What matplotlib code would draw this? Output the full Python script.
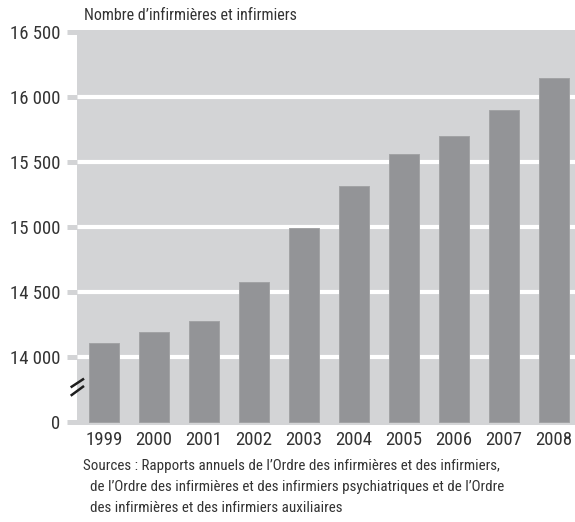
import matplotlib
matplotlib.use("Agg")
import matplotlib.pyplot as plt
from matplotlib import font_manager
from matplotlib.lines import Line2D

years = ["1999", "2000", "2001", "2002", "2003", "2004", "2005", "2006", "2007", "2008"]
nurses = [14105, 14190, 14270, 14570, 14990, 15310, 15562, 15700, 15900, 16142]
ytick_values = [13500, 14000, 14500, 15000, 15500, 16000, 16500]
ytick_labels = ["0", "14 000", "14 500", "15 000", "15 500", "16 000", "16 500"]
title = "Nombre d\u2019infirmières et infirmiers"
source_lines = [
    "Sources : Rapports annuels de l\u2019Ordre des infirmières et des infirmiers,",
    "de l\u2019Ordre des infirmières et des infirmiers psychiatriques et de l\u2019Ordre",
    "des infirmières et des infirmiers auxiliaires",
]

names = {f.name for f in font_manager.fontManager.ttflist}
narrow = None
for cand in ["Roboto Condensed", "Liberation Sans Narrow", "Open Sans Condensed", "Arial Narrow"]:
    if cand in names:
        narrow = cand
        break
if narrow:
    fam = [narrow, "DejaVu Sans"]
    tick_fs, text_fs, title_fs = 13.5, 10.8, 11.5
else:
    fam = ["Roboto", "DejaVu Sans"]
    tick_fs, text_fs, title_fs = 12.0, 9.2, 9.8
plt.rcParams["font.family"] = fam

text_col = "#333333"
bg = "#d3d4d6"
bar_col = "#939497"

W, H = 575, 522
fig = plt.figure(figsize=(W / 100, H / 100), dpi=100)
left_px, right_px, top_px, bot_px = 77, 575, 30, 424.5
ax = fig.add_axes([left_px / W, 1 - bot_px / H, (right_px - left_px) / W, (bot_px - top_px) / H])
ax.set_facecolor(bg)
for s in ax.spines.values():
    s.set_visible(False)

x = list(range(len(years)))
ax.set_xlim(-0.54, 9.42)
ax.set_ylim(13477, 16513)
for v in [14000, 14500, 15000, 15500, 16000]:
    ax.axhline(v, color="white", lw=3.0, zorder=1)
ax.bar(x, [n - 13500 for n in nurses], bottom=13500, width=0.6, color=bar_col,
       edgecolor="#a2a3a5", linewidth=0.7, zorder=2)

ax.set_yticks(ytick_values)
ax.set_yticklabels(ytick_labels, fontsize=tick_fs, color=text_col)
ax.tick_params(axis="y", length=7.5, width=3.6, color=bg, pad=4.3)
ax.set_xticks(x)
ax.set_xticklabels(years, fontsize=tick_fs, color=text_col)
ax.tick_params(axis="x", length=0, pad=5)

# axis break marks
def ax_pt(px, py):
    return ((px - left_px) / (right_px - left_px), (bot_px - py) / (bot_px - top_px))
for (x0, y0), (x1, y1) in [((71.7, 395), (83, 386.7)), ((71.7, 386.7), (83, 379.3))]:
    a = ax_pt(x0, y0)
    b = ax_pt(x1, y1)
    ax.add_line(Line2D([a[0], b[0]], [a[1], b[1]], transform=ax.transAxes,
                       color="#1e1e1e", lw=1.8, clip_on=False, zorder=5))

fig.text(84 / W, 1 - 15.5 / H, title, fontsize=title_fs, color=text_col, va="center", ha="left")

ys = [466, 487, 508]
xs = [83, 90, 90]
for line, xx, yy in zip(source_lines, xs, ys):
    fig.text(xx / W, 1 - yy / H, line, fontsize=text_fs, color=text_col, va="center", ha="left")

fig.savefig("out.png", dpi=100, facecolor="white")
